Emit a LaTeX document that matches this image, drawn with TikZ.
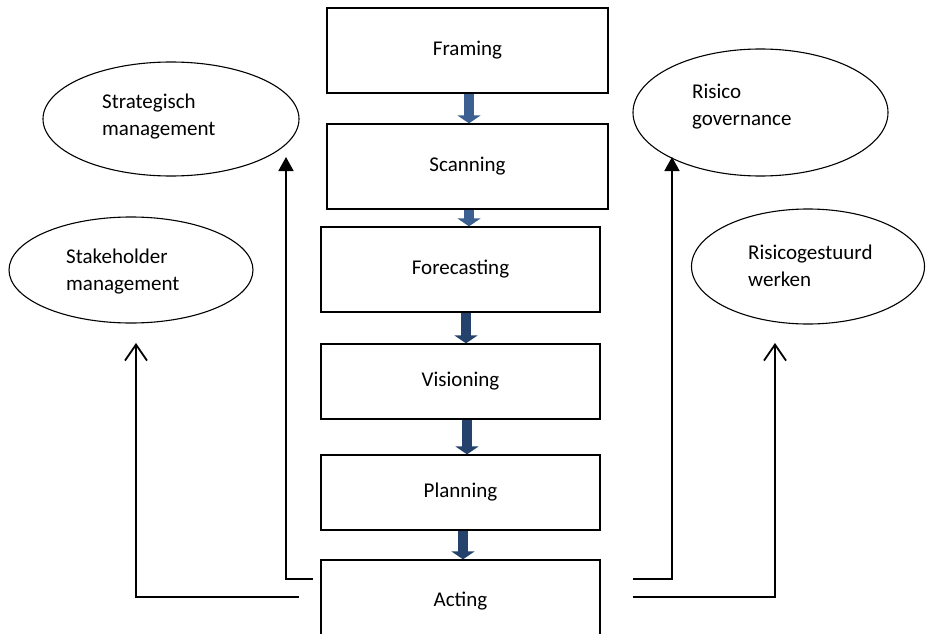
\documentclass[tikz,border=0pt]{standalone}
\usepackage{fontspec}
\setmainfont{Carlito}
\usetikzlibrary{arrows.meta,shapes.geometric}
\definecolor{blueA}{RGB}{59,96,145}
\definecolor{blueB}{RGB}{36,66,108}
\begin{document}
\begin{tikzpicture}[x=1pt,y=-1pt,
  box/.style={draw,line width=1.3pt,rectangle,inner sep=0pt,font=\fontsize{21}{27}\selectfont},
  ell/.style={draw,line width=1.1pt,ellipse,inner sep=0pt},
  lbl/.style={inner sep=0pt,align=left,anchor=west,font=\fontsize{21}{27}\selectfont},
  flowA/.style={line width=10pt,draw=blueA,-{Triangle[length=8pt,width=23pt,fill=blueA]}},
  flowB/.style={line width=10pt,draw=blueB,-{Triangle[length=8pt,width=23pt,fill=blueB]}},
  link/.style={line width=1.8pt},
  solidtip/.style={link,-{Triangle[length=14pt,width=15pt]}},
  opentip/.style={link,-{Straight Barb[length=16pt,width=22pt]}}
]
\useasboundingbox (0,0) rectangle (926,634);
\clip (0,0) rectangle (926,634);

% process boxes
\node[box,minimum width=281pt,minimum height=85pt] (fr) at (467.5,50.5) {Framing};
\node[box,minimum width=281pt,minimum height=85pt] (sc) at (467.5,166.5) {Scanning};
\node[box,minimum width=279pt,minimum height=85pt] (fo) at (460.5,269.5) {Forecasting};
\node[box,minimum width=279pt,minimum height=75pt] (vi) at (460.5,381.5) {Visioning};
\node[box,minimum width=279pt,minimum height=75pt] (pl) at (460.5,492.5) {Planning};
\node[box,minimum width=279pt,minimum height=82pt] (ac) at (460.5,601) {Acting};

% flow arrows
\draw[flowA] ([xshift=1.5pt]fr.south) -- ([xshift=1.5pt]sc.north);
\draw[flowA] ([xshift=1.5pt]sc.south) -- ([xshift=8.5pt]fo.north);
\draw[flowB] ([xshift=5.5pt]fo.south) -- ([xshift=5.5pt]vi.north);
\draw[flowB] ([xshift=6.5pt]vi.south) -- ([xshift=6.5pt]pl.north);
\draw[flowB] ([xshift=2.5pt]pl.south) -- ([xshift=2.5pt]ac.north);

% ellipses
\node[ell,minimum width=256pt,minimum height=114pt] (sm) at (171,119) {};
\node[ell,minimum width=244pt,minimum height=106pt] (sh) at (131,270) {};
\node[ell,minimum width=255pt,minimum height=127pt] (rg) at (760.5,112.5) {};
\node[ell,minimum width=233pt,minimum height=115pt] (rw) at (808,266.5) {};

\node[lbl] (smt) at (102,117) {Strategisch\\management};
\node[lbl] (sht) at (66,272) {Stakeholder\\management};
\node[lbl] (rgt) at (692,107) {Risico\\governance};
\node[lbl] (rwt) at (748,266) {Risicogestuurd\\werken};

% connectors
\coordinate (ls1) at (313,579);
\coordinate (ls2) at (299,597);
\coordinate (rs1) at (633,579);
\coordinate (rs2) at (633,597);
\coordinate (smin) at (286,157);
\coordinate (shin) at (136,343);
\coordinate (rgin) at (672,157);
\coordinate (rwin) at (775,343);

\draw[solidtip] (ls1) -| (smin);
\draw[opentip] (ls2) -| (shin);
\draw[solidtip] (rs1) -| (rgin);
\draw[opentip] (rs2) -| (rwin);
\end{tikzpicture}
\end{document}
